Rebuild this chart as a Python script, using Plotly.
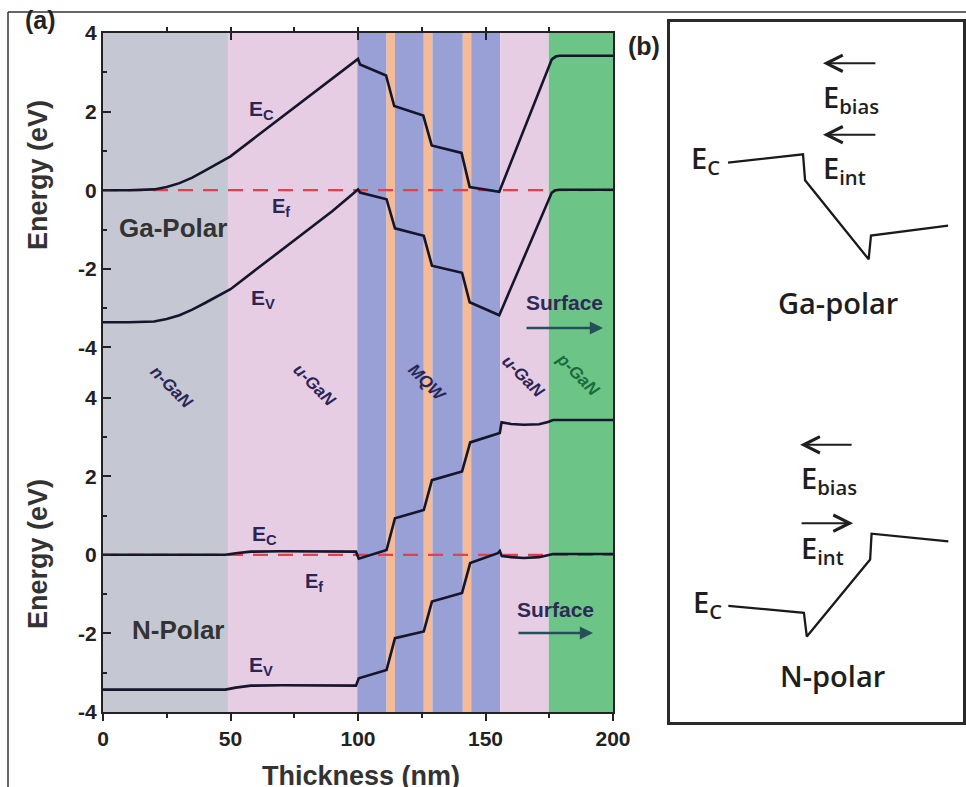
import plotly.graph_objects as go

# ---------------- data ----------------
# layer regions (nm)
region_start = [0, 49, 99.7, 111.2, 114.5, 125.8, 129.2, 141.1, 144.4, 155.8, 174.8]
region_end   = [49, 99.7, 111.2, 114.5, 125.8, 129.2, 141.1, 144.4, 155.8, 174.8, 200]
region_color = ["#c5c8d2", "#e6cde4", "#98a0d6", "#f4bb96", "#98a0d6", "#f4bb96",
                "#98a0d6", "#f4bb96", "#98a0d6", "#e6cde4", "#6cc487"]

region_labels = ["n-GaN", "u-GaN", "MQW", "u-GaN", "p-GaN"]

# Ga-polar band edges
ga_x_ec = [0, 10, 20, 25, 30, 35, 40, 45, 50, 60, 70, 80, 90, 100, 100.8, 111.0, 114.2,
           125.6, 128.9, 140.6, 143.8, 155.4, 176.0, 177.5, 179, 200]
ga_ec = [0.0, 0.0, 0.02, 0.08, 0.18, 0.32, 0.5, 0.68, 0.86, 1.36, 1.86, 2.35, 2.84, 3.34,
         3.2, 2.92, 2.14, 1.9, 1.14, 0.95, 0.08, -0.04, 3.33, 3.4, 3.42, 3.42]
ga_x_ev = [0, 10, 20, 25, 30, 35, 40, 45, 50, 60, 70, 80, 90, 100, 100.8, 111.2, 114.5,
           125.8, 129.0, 140.8, 143.8, 155.4, 176.0, 177.5, 179, 200]
ga_ev = [-3.36, -3.36, -3.34, -3.28, -3.18, -3.04, -2.87, -2.69, -2.52, -2.02, -1.52,
         -1.03, -0.53, 0.02, -0.06, -0.23, -0.97, -1.16, -1.92, -2.1, -2.85, -3.18,
         -0.06, 0.0, 0.01, 0.01]

# N-polar band edges
n_x_ec = [0, 48, 52, 58, 70, 99.2, 100.3, 111.2, 114.5, 125.8, 129.0, 140.8, 144.0,
          155.6, 156.3, 160, 165, 171, 174.5, 176.5, 200]
n_ec = [0.0, 0.0, 0.04, 0.08, 0.09, 0.08, -0.1, 0.12, 0.93, 1.14, 1.9, 2.12, 2.86,
        3.1, 3.37, 3.33, 3.31, 3.32, 3.38, 3.43, 3.43]
n_x_ev = [0, 48, 52, 58, 70, 99.2, 100.3, 111.2, 114.5, 125.8, 129.0, 140.8, 144.0,
          154.8, 155.6, 156.4, 160, 165, 171, 174.5, 176.5, 200]
n_ev = [-3.43, -3.43, -3.38, -3.33, -3.32, -3.33, -3.14, -2.93, -2.12, -1.95, -1.19,
        -0.97, -0.21, 0.04, 0.1, -0.03, -0.06, -0.08, -0.06, -0.01, 0.02, 0.02]

ef_x = [0, 200]
ef_y = [0, 0]

# x / y ticks
x_ticks = [0, 50, 100, 150, 200]
x_tick_text = ["0", "50", "100", "150", "200"]
y_ticks = [-4, -2, 0, 2, 4]
y_tick_text = ["-4", "-2", "0", "2", "4"]

# panel (b) schematic conduction band (normalised box units 0-100)
b_ga_x = [19.8, 45.4, 46.1, 67.8, 68.6, 94.9]
b_ga_y = [79.9, 81.1, 77.4, 66.1, 69.5, 70.9]
b_n_x = [19.9, 45.7, 46.7, 68.3, 68.8, 95.0]
b_n_y = [16.6, 15.6, 12.2, 23.2, 26.9, 25.8]

# ---------------- figure ----------------
W, H = 966, 787


def P(px, py):
    return px / W, 1 - py / H


X0, X1 = 103, 613
TOP_T, MID, BOT_B = 33, 372, 712

ink = "#15152b"
navy = "#2b2556"
AF = "Liberation Sans"

fig = go.Figure()

# band edges, top (Ga-polar)
fig.add_trace(go.Scatter(x=ef_x, y=ef_y, xaxis="x2", yaxis="y2", mode="lines",
                         line=dict(color="#e2404e", width=2.2, dash="15px,10px"), hoverinfo="skip"))
fig.add_trace(go.Scatter(x=ga_x_ec, y=ga_ec, xaxis="x2", yaxis="y2", mode="lines",
                         line=dict(color=ink, width=2.6), hoverinfo="skip"))
fig.add_trace(go.Scatter(x=ga_x_ev, y=ga_ev, xaxis="x2", yaxis="y2", mode="lines",
                         line=dict(color=ink, width=2.6), hoverinfo="skip"))
# bottom (N-polar)
fig.add_trace(go.Scatter(x=ef_x, y=ef_y, xaxis="x", yaxis="y", mode="lines",
                         line=dict(color="#e2404e", width=2.2, dash="15px,10px"), hoverinfo="skip"))
fig.add_trace(go.Scatter(x=n_x_ec, y=n_ec, xaxis="x", yaxis="y", mode="lines",
                         line=dict(color=ink, width=2.6), hoverinfo="skip"))
fig.add_trace(go.Scatter(x=n_x_ev, y=n_ev, xaxis="x", yaxis="y", mode="lines",
                         line=dict(color=ink, width=2.6), hoverinfo="skip"))
# panel b
fig.add_trace(go.Scatter(x=b_ga_x, y=b_ga_y, xaxis="x3", yaxis="y3", mode="lines",
                         line=dict(color="#1a1a1a", width=2.3), hoverinfo="skip"))
fig.add_trace(go.Scatter(x=b_n_x, y=b_n_y, xaxis="x3", yaxis="y3", mode="lines",
                         line=dict(color="#1a1a1a", width=2.3), hoverinfo="skip"))

shapes = []
for s, e, c in zip(region_start, region_end, region_color):
    shapes.append(dict(type="rect", xref="x", yref="paper", x0=s, x1=e,
                       y0=1 - BOT_B / H, y1=1 - TOP_T / H, fillcolor=c, line_width=0, layer="below"))
# outer frame lines
shapes.append(dict(type="line", xref="paper", yref="paper", x0=P(8, 12)[0], x1=1.0,
                   y0=P(8, 12)[1], y1=P(8, 12)[1], line=dict(color="#333", width=1.5)))
shapes.append(dict(type="line", xref="paper", yref="paper", x0=P(8, 12)[0], x1=P(8, 12)[0],
                   y0=0, y1=P(8, 12)[1], line=dict(color="#333", width=1.5)))

tickfont = dict(family=AF, size=21, color="#222", weight="bold")
xdom = [X0 / W, X1 / W]
common_x = dict(range=[0, 200], domain=xdom, showgrid=False, zeroline=False,
                showline=True, linecolor="#222", linewidth=2, tickcolor="#222",
                tickwidth=2, tickvals=x_ticks, ticktext=x_tick_text, tickfont=tickfont,
                automargin=False,
                minor=dict(dtick=25, tick0=0, ticklen=4, tickwidth=2, tickcolor="#222"))
common_y = dict(showgrid=False, zeroline=False, showline=True, mirror=True,
                linecolor="#222", linewidth=2, tickcolor="#222", tickwidth=2,
                tickvals=y_ticks, ticktext=y_tick_text, ticks="inside", ticklen=8,
                tickfont=tickfont, automargin=False,
                minor=dict(dtick=1, tick0=0, ticklen=4, tickwidth=2, ticks="inside", tickcolor="#222"))

layout = dict(
    width=W, height=H, margin=dict(l=0, r=0, t=0, b=0, autoexpand=False),
    paper_bgcolor="white", plot_bgcolor="rgba(0,0,0,0)", showlegend=False,
    xaxis=dict(common_x, anchor="y", ticks="outside", ticklen=7),
    yaxis=dict(common_y, anchor="x", range=[-4, -4 + (BOT_B - MID) / 39.3],
               domain=[1 - BOT_B / H, 1 - MID / H]),
    xaxis2=dict(common_x, anchor="y2", side="top", ticks="inside", ticklen=7,
                showticklabels=False, matches="x"),
    yaxis2=dict(common_y, anchor="x2", range=[4 - (MID - TOP_T) / 39.3, 4],
                domain=[1 - MID / H, 1 - TOP_T / H]),
    xaxis3=dict(domain=[670 / W, 963 / W], range=[0, 100], anchor="y3", showgrid=False,
                zeroline=False, showticklabels=False, ticks="", showline=True, mirror=True,
                linecolor="#2a2a2a", linewidth=3, automargin=False),
    yaxis3=dict(domain=[1 - 722 / H, 1 - 22 / H], range=[0, 100], anchor="x3", showgrid=False,
                zeroline=False, showticklabels=False, ticks="", showline=True, mirror=True,
                linecolor="#2a2a2a", linewidth=3, automargin=False),
    shapes=shapes,
)
fig.update_layout(**layout)

ann = []


def txt(px, py, text, size, color=navy, family=AF, weight="bold", xanchor="center",
        yanchor="middle", angle=0, style="normal"):
    x, y = P(px, py)
    ann.append(dict(xref="paper", yref="paper", x=x, y=y, text=text, showarrow=False,
                    xanchor=xanchor, yanchor=yanchor, textangle=angle,
                    font=dict(family=family, size=size, color=color, weight=weight, style=style)))


# panel labels
txt(40, 20, "(a)", 25, color="#222")
txt(644, 46, "(b)", 25, color="#222")
# axis titles
txt(38, 175, "Energy (eV)", 27, color="#333", angle=-90)
txt(38, 554, "Energy (eV)", 27, color="#333", angle=-90)
txt(361, 759, "Thickness (nm)", 27, color="#333", yanchor="top")

# band labels top
txt(261, 110, "E<sub>C</sub>", 21)
txt(281, 207, "E<sub>f</sub>", 20)
txt(263, 299, "E<sub>V</sub>", 21)
txt(173, 228, "Ga-Polar", 26, color="#333")
# band labels bottom
txt(264, 535, "E<sub>C</sub>", 21)
txt(314, 582, "E<sub>f</sub>", 20)
txt(261, 666, "E<sub>V</sub>", 21)
txt(178, 630, "N-Polar", 26, color="#333")

# Surface labels
txt(564, 303, "Surface", 21, color="#2e2a55")
txt(555, 609, "Surface", 21, color="#2e2a55")

# region labels
reg_pos = [(172, 387), (315, 385), (427, 382), (523, 377), (578, 374)]
reg_col = [navy, navy, navy, navy, "#1d6a3a"]
for (px, py), lab, c in zip(reg_pos, region_labels, reg_col):
    txt(px, py, lab, 17, color=c, angle=45, style="italic")

# surface arrows
for (hx, hy, tx) in [(603, 328, 525), (593, 633, 517)]:
    x, y = P(hx, hy)
    ann.append(dict(xref="paper", yref="paper", x=x, y=y, ax=tx - hx, ay=0, text="",
                    showarrow=True, arrowhead=2, arrowsize=1.1, arrowwidth=2.4,
                    arrowcolor="#25505a"))

# panel (b) text and arrows (in box units)
BF = "Open Sans"


def btxt(x, y, text, size, xanchor="left"):
    ann.append(dict(xref="x3", yref="y3", x=x, y=y, text=text, showarrow=False,
                    xanchor=xanchor, yanchor="middle",
                    font=dict(family=BF, size=size, color="#1e1e1e", weight=600)))


def barrow(xh, xt, y):
    ann.append(dict(xref="x3", yref="y3", axref="x3", ayref="y3", x=xh, y=y, ax=xt, ay=y,
                    text="", showarrow=True, arrowhead=5, arrowsize=1.6, arrowwidth=2,
                    arrowcolor="#1e1e1e"))


barrow(52.2, 70.6, 94.1)
btxt(51.6, 89.1, "E<sub>bias</sub>", 29)
barrow(52.2, 70.6, 83.9)
btxt(51.6, 78.9, "E<sub>int</sub>", 29)
btxt(6.5, 80.3, "E<sub>C</sub>", 29)
btxt(57.3, 60.0, "Ga-polar", 29, xanchor="center")

barrow(44.4, 62.5, 39.6)
btxt(44.0, 34.6, "E<sub>bias</sub>", 29)
barrow(62.5, 44.4, 28.4)
btxt(44.0, 24.6, "E<sub>int</sub>", 29)
btxt(7.2, 17.0, "E<sub>C</sub>", 29)
btxt(55.3, 6.7, "N-polar", 29, xanchor="center")

fig.update_layout(annotations=ann)
fig.write_html("out.html", config={"displayModeBar": False},
               post_script="document.body.style.margin='0px';document.body.style.overflow='hidden';")
